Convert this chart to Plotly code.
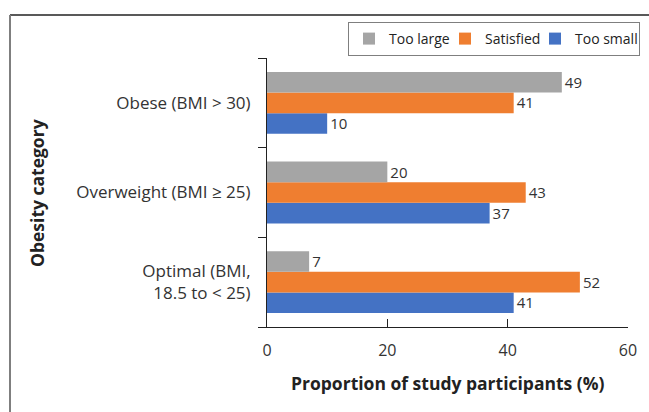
import plotly.graph_objects as go

categories = ["Optimal (BMI,<br>18.5 to < 25)", "Overweight (BMI ≥ 25)", "Obese (BMI > 30)"]
too_small = [41, 37, 10]
satisfied = [52, 43, 41]
too_large = [7, 20, 49]

FONT = "Open Sans"
W, H = 649, 412
ml, mr, mt, mb = 267, 21, 58, 85
pw, ph = W - ml - mr, H - mt - mb

def px_x(x):
    return (x - ml) / pw

def px_y(y):
    return 1 - (y - mt) / ph

fig = go.Figure()
for name, vals, col, lw in [("Too small", too_small, "#4472C4", 59),
                            ("Satisfied", satisfied, "#EF7E30", 45),
                            ("Too large", too_large, "#A5A5A5", 51)]:
    fig.add_trace(go.Bar(
        y=categories, x=vals, name=name, orientation="h",
        marker=dict(color=col, line=dict(width=0)),
        text=[str(v) for v in vals], textposition="outside",
        textfont=dict(family=FONT, size=16, color="#333333"),
        cliponaxis=False, legendwidth=lw,
    ))

fig.update_layout(
    width=W, height=H,
    margin=dict(l=ml, r=mr, t=mt, b=mb, autoexpand=False),
    paper_bgcolor="white", plot_bgcolor="white",
    barmode="group", bargap=0.31, bargroupgap=0,
    font=dict(family=FONT, size=16, color="#333333"),
    legend=dict(orientation="h", traceorder="reversed",
                x=px_x(348), xanchor="left", y=px_y(22), yanchor="top",
                bordercolor="#7F7F7F", borderwidth=1,
                font=dict(family=FONT, size=14, color="#222222"),
                tracegroupgap=0, itemwidth=30),
    xaxis=dict(range=[0, 60], dtick=20, showgrid=False, zeroline=False,
               showline=True, linecolor="#222222", linewidth=1,
               ticks="inside", ticklen=8, tickcolor="#222222",
               ticklabelstandoff=9,
               tickfont=dict(family=FONT, size=16, color="#333333"),
               automargin=False),
    yaxis=dict(categoryorder="array", categoryarray=categories,
               showgrid=False, showline=True, linecolor="#222222", linewidth=1,
               ticks="outside", ticklen=8, tickcolor="#222222",
               tickson="boundaries", ticklabelstandoff=12,
               tickfont=dict(family=FONT, size=17, color="#333333"),
               automargin=False),
    annotations=[
        dict(text="<b>Proportion of study participants (%)</b>", xref="paper", yref="paper",
             x=px_x(448), y=px_y(383), xanchor="center", yanchor="middle", showarrow=False,
             font=dict(family=FONT, size=17.5, color="#222222")),
        dict(text="<b>Obesity category</b>", xref="paper", yref="paper",
             x=px_x(37), y=px_y(193), xanchor="center", yanchor="middle", showarrow=False,
             textangle=-90, font=dict(family=FONT, size=17.5, color="#222222")),
    ],
    shapes=[
        dict(type="line", xref="paper", yref="paper", x0=px_x(10), x1=px_x(655),
             y0=px_y(15), y1=px_y(15), line=dict(color="#222222", width=1.5)),
        dict(type="line", xref="paper", yref="paper", x0=px_x(10), x1=px_x(10),
             y0=px_y(15), y1=px_y(420), line=dict(color="#7F7F7F", width=2)),
    ],
)

fig.write_html("out.html", config={"displayModeBar": False},
               post_script="document.body.style.margin='0';document.body.style.overflow='hidden';")
